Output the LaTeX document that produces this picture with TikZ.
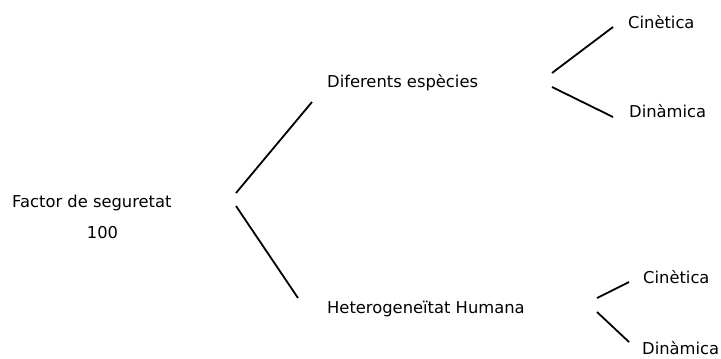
\documentclass[tikz,border=0pt]{standalone}
\usepackage{fontspec}
\setmainfont{DejaVu Sans}
\begin{document}
\begin{tikzpicture}[x=1bp,y=-1bp,
  lbl/.style={anchor=base west,inner sep=0pt,font=\fontsize{16.4}{19}\selectfont},
  branch/.style={line width=1.8bp,line cap=butt}]
\useasboundingbox (0,0) rectangle (721,358);
\node[lbl] (root) at (12,207) {Factor de seguretat};
\node[inner sep=0pt,anchor=base,font=\fontsize{16.4}{19}\selectfont] (num) at (102.5,238) {100};
\node[lbl] (dif) at (327,87) {Diferents espècies};
\node[lbl] (het) at (327,313) {Heterogeneïtat Humana};
\node[lbl] (c1) at (628,28) {Cinètica};
\node[lbl] (d1) at (629,117) {Dinàmica};
\node[lbl] (c2) at (643,283) {Cinètica};
\node[lbl] (d2) at (642,354) {Dinàmica};
\coordinate (r1a) at (236,193); \coordinate (r1b) at (312,102);
\coordinate (r2a) at (236,206); \coordinate (r2b) at (298,298);
\coordinate (u1a) at (552,73); \coordinate (u1b) at (613,27);
\coordinate (u2a) at (552,87); \coordinate (u2b) at (613,117);
\coordinate (l1a) at (597,298); \coordinate (l1b) at (629,282);
\coordinate (l2a) at (597,312); \coordinate (l2b) at (629,342);
\draw[branch] (r1a) -- (r1b);
\draw[branch] (r2a) -- (r2b);
\draw[branch] (u1a) -- (u1b);
\draw[branch] (u2a) -- (u2b);
\draw[branch] (l1a) -- (l1b);
\draw[branch] (l2a) -- (l2b);
\end{tikzpicture}
\end{document}
